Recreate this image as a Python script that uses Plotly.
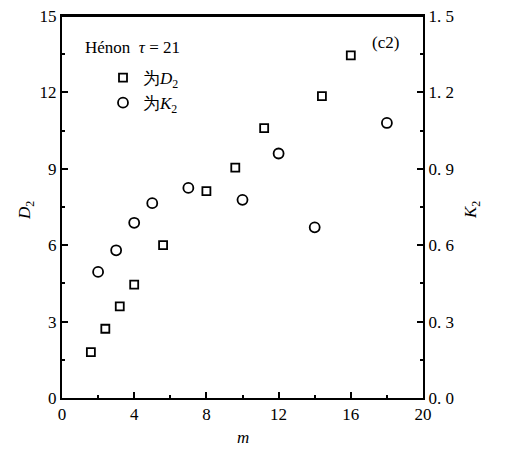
import plotly.graph_objects as go

# D2 (left axis) data
m_d2 = [1.6, 2.4, 3.2, 4.0, 5.6, 8.0, 9.6, 11.2, 14.4, 16.0]
d2 = [1.8, 2.72, 3.6, 4.45, 6.0, 8.12, 9.05, 10.6, 11.85, 13.45]

# K2 (right axis) data
m_k2 = [2, 3, 4, 5, 7, 10, 12, 14, 18]
k2 = [0.495, 0.58, 0.688, 0.765, 0.825, 0.778, 0.96, 0.67, 1.08]

x_ticks = [0, 4, 8, 12, 16, 20]
y_ticks = [0, 3, 6, 9, 12, 15]
y2_ticks = [0, 0.3, 0.6, 0.9, 1.2, 1.5]
y2_labels = ["0. 0", "0. 3", "0. 6", "0. 9", "1. 2", "1. 5"]

SERIF = "Liberation Serif"

OFF = 8  # page body margin
FW, FH = 506 - OFF, 456 - OFF
L, R, T, B = 62 - OFF, 423 - OFF, 16 - OFF, 398 - OFF
W, H = R - L, B - T


def px(x):
    return (x - OFF - L) / W


def py(y):
    return 1 - (y - OFF - T) / H


fig = go.Figure()
fig.add_trace(go.Scatter(
    x=m_d2, y=d2, mode="markers", name="为<i>D</i><sub>2</sub>",
    marker=dict(symbol="square-open", size=8, color="black", line=dict(width=1.8, color="black")),
))
fig.add_trace(go.Scatter(
    x=m_k2, y=k2, mode="markers", name="为<i>K</i><sub>2</sub>", yaxis="y2",
    marker=dict(symbol="circle-open", size=10, color="black", line=dict(width=1.8, color="black")),
))

axis_common = dict(
    showgrid=False, zeroline=False, showline=True, linecolor="black", linewidth=2,
    ticks="inside", ticklen=6, tickwidth=2, tickcolor="black", automargin=False,
    tickfont=dict(family=SERIF, size=17, color="black"),
)

fig.update_layout(
    width=FW, height=FH,
    margin=dict(l=L, r=FW - R, t=T, b=FH - B, autoexpand=False),
    paper_bgcolor="white", plot_bgcolor="white",
    font=dict(family=SERIF, color="black"),
    showlegend=True,
    legend=dict(
        x=px(103), y=py(60), xanchor="left", yanchor="top",
        bgcolor="rgba(0,0,0,0)",
        font=dict(family=SERIF, size=17, color="black"),
        itemwidth=30,
    ),
    xaxis=dict(
        range=[0, 20], tickvals=x_ticks, mirror=True,
        minor=dict(tickvals=[2, 6, 10, 14, 18], ticks="inside", ticklen=3, tickwidth=2, tickcolor="black"),
        **axis_common,
    ),
    yaxis=dict(
        range=[0, 15], tickvals=y_ticks, ticklabeloverflow="allow",
        minor=dict(tickvals=[1.5, 4.5, 7.5, 10.5, 13.5], ticks="inside", ticklen=3, tickwidth=2, tickcolor="black"),
        **axis_common,
    ),
    yaxis2=dict(
        range=[0, 1.5], tickvals=y2_ticks, ticktext=y2_labels, ticklabeloverflow="allow",
        overlaying="y", side="right",
        minor=dict(tickvals=[0.15, 0.45, 0.75, 1.05, 1.35], ticks="inside", ticklen=3, tickwidth=2, tickcolor="black"),
        **axis_common,
    ),
    shapes=[
        dict(type="line", xref="paper", yref="paper", x0=0, x1=1, y0=1, y1=1,
             line=dict(color="black", width=2)),
    ],
    annotations=[
        dict(text="Hénon  <i>τ</i> = 21", x=px(83), y=py(47), xanchor="left", yanchor="middle",
             xref="paper", yref="paper", showarrow=False,
             font=dict(family=SERIF, size=17, color="black")),
        dict(text="(c2)", x=px(385), y=py(42), xanchor="center", yanchor="middle",
             xref="paper", yref="paper", showarrow=False,
             font=dict(family=SERIF, size=17, color="black")),
        dict(text="<i>m</i>", x=px(243), y=py(437), xanchor="center", yanchor="middle",
             xref="paper", yref="paper", showarrow=False,
             font=dict(family=SERIF, size=17, color="black")),
        dict(text="<i>D</i><sub>2</sub>", x=px(26), y=py(211), xanchor="center", yanchor="middle",
             xref="paper", yref="paper", showarrow=False,
             textangle=-90, font=dict(family=SERIF, size=17, color="black")),
        dict(text="<i>K</i><sub>2</sub>", x=px(472), y=py(210), xanchor="center", yanchor="middle",
             xref="paper", yref="paper", showarrow=False,
             textangle=-90, font=dict(family=SERIF, size=17, color="black")),
    ],
)

fig.write_html("out.html")
